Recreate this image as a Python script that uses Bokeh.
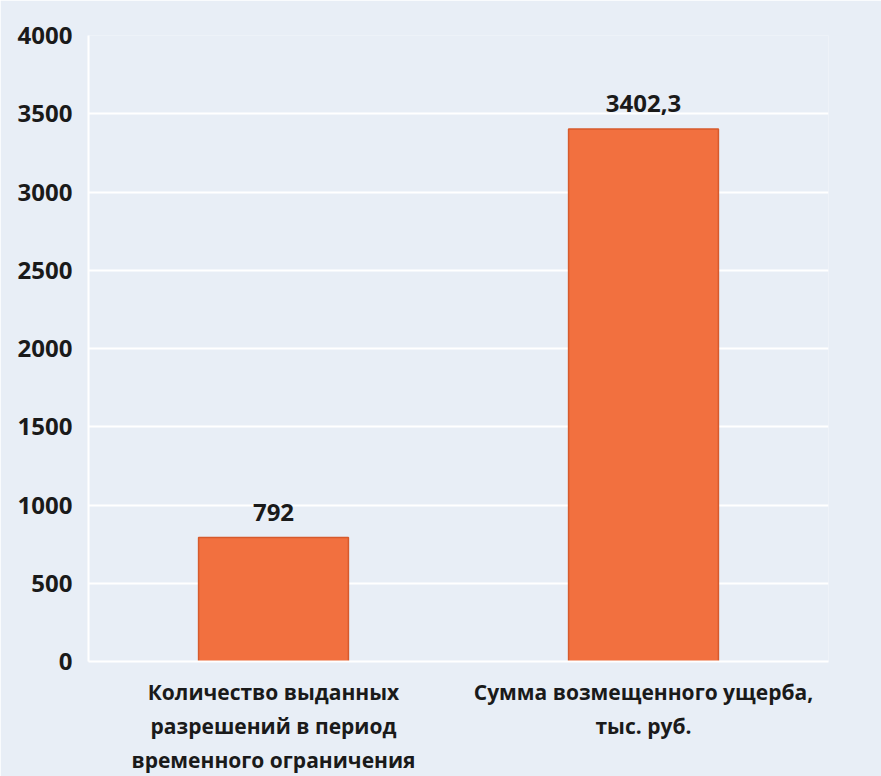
from bokeh.plotting import figure
from bokeh.models import ColumnDataSource, LabelSet, Range1d, FixedTicker
from bokeh.core.properties import value
from bokeh.embed import file_html
from bokeh.resources import INLINE

categories = ["Количество выданных\nразрешений в период\nвременного ограничения",
              "Сумма возмещенного ущерба,\nтыс. руб."]
values = [792, 3402.3]
value_labels = ["792", "3402,3"]
y_ticks = [0, 500, 1000, 1500, 2000, 2500, 3000, 3500, 4000]

BG = "#e8eef6"
FONT = "Open Sans"

src = ColumnDataSource(dict(cat=categories, val=values, lab=value_labels))

p = figure(x_range=categories, y_range=Range1d(0, 4000),
           frame_width=740, frame_height=626, output_backend="svg", toolbar_location=None,
           background_fill_color=BG, border_fill_color=BG,
           min_border_left=88, min_border_right=53, min_border_top=35, min_border_bottom=115)
p.outline_line_color = None

p.vbar(x="cat", top="val", width=0.405, source=src,
       fill_color="#f2703f", line_color="#d65a2c", line_width=1.5)

labels = LabelSet(x="cat", y="val", text="lab", source=src, text_align="center",
                  text_baseline="bottom", y_offset=17, text_font=value(FONT),
                  text_font_style="bold", text_font_size="24px", text_color="#1a1a1a")
p.add_layout(labels)

p.yaxis.ticker = FixedTicker(ticks=y_ticks)
p.yaxis.major_label_text_font = FONT
p.yaxis.major_label_text_font_style = "bold"
p.yaxis.major_label_text_font_size = "24px"
p.yaxis.major_label_text_color = "#1a1a1a"
p.yaxis.axis_line_color = "#ffffff"
p.yaxis.axis_line_width = 2
p.yaxis.major_tick_line_color = None
p.yaxis.minor_tick_line_color = None
p.yaxis.major_label_standoff = 10

p.xaxis.major_label_text_font = FONT
p.xaxis.major_label_text_font_style = "bold"
p.xaxis.major_label_text_font_size = "21px"
p.xaxis.major_label_text_color = "#1a1a1a"
p.xaxis.major_label_text_line_height = 1.22
p.xaxis.axis_line_color = "#ffffff"
p.xaxis.axis_line_width = 2
p.xaxis.major_tick_line_color = None
p.xaxis.minor_tick_line_color = None
p.xaxis.major_label_standoff = 10

p.xgrid.grid_line_color = None
p.ygrid.grid_line_color = "#ffffff"
p.ygrid.grid_line_width = 2

open("out.html", "w").write(file_html(p, INLINE))
